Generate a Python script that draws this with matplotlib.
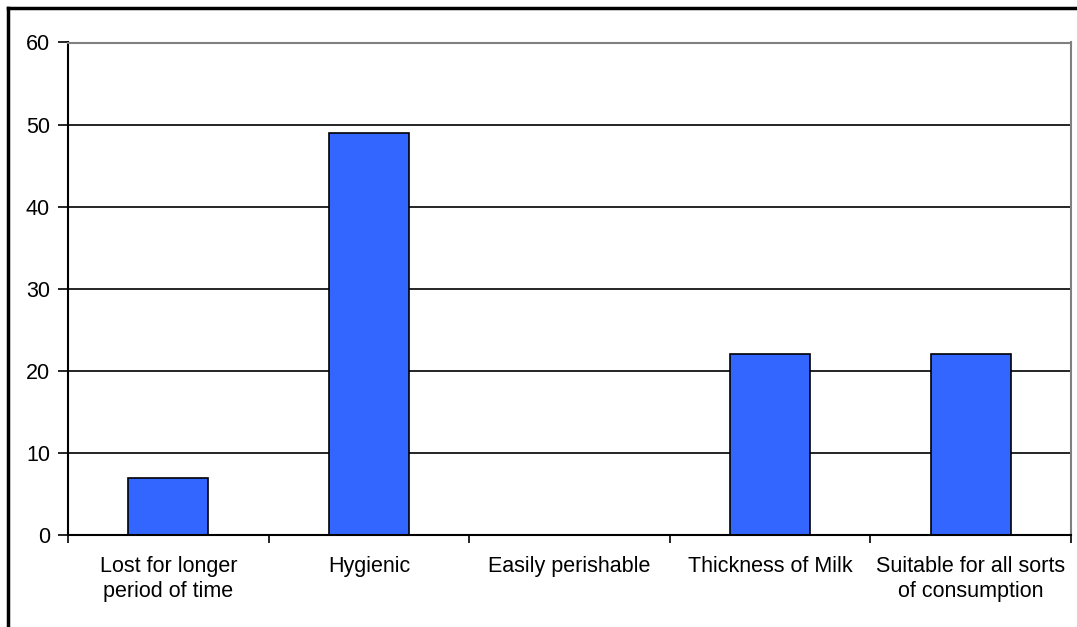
import numpy as np
import matplotlib.pyplot as plt
from matplotlib.lines import Line2D

plt.rcParams["font.family"] = ["Liberation Sans", "DejaVu Sans"]

categories = ["Lost for longer\nperiod of time", "Hygienic", "Easily perishable",
              "Thickness of Milk", "Suitable for all sorts\nof consumption"]
values = [7, 49, 0, 22, 22]
yticks = [0, 10, 20, 30, 40, 50, 60]

W, H = 1077, 627
fig = plt.figure(figsize=(W / 100, H / 100), dpi=100)
ax = fig.add_axes([68 / W, (H - 535) / H, (1071 - 68) / W, (535 - 42.5) / H])

x = np.arange(len(categories))
ax.bar(x, values, width=0.4, color="#3366FF", edgecolor="black", linewidth=1.2, zorder=3)

ax.set_xlim(-0.5, len(categories) - 0.5)
ax.set_ylim(0, 60)
ax.set_yticks(yticks)
ax.tick_params(axis="y", direction="out", length=7, width=1.2, labelsize=15.5, pad=6)

# category labels centred, tick marks between categories
ax.set_xticks(x)
ax.set_xticklabels(categories, fontsize=15.5, linespacing=1.25)
ax.tick_params(axis="x", which="major", length=0, pad=15)
ax.set_xticks(np.arange(len(categories) + 1) - 0.5, minor=True)
ax.tick_params(axis="x", which="minor", direction="out", length=6, width=1.2)

ax.yaxis.grid(True, color="black", linewidth=1.2, zorder=0)
ax.set_axisbelow(True)

for s in ["top", "right"]:
    ax.spines[s].set_color("#808080")
    ax.spines[s].set_linewidth(1.5)
for s in ["left", "bottom"]:
    ax.spines[s].set_color("black")
    ax.spines[s].set_linewidth(1.5)
ax.spines["bottom"].set_zorder(4)

# outer frame of the chart area (top and left edges)
fig.add_artist(Line2D([8 / W, 1], [1 - 8 / H, 1 - 8 / H], color="black", linewidth=2.5,
                      transform=fig.transFigure))
fig.add_artist(Line2D([8 / W, 8 / W], [0, 1 - 8 / H], color="black", linewidth=2.5,
                      transform=fig.transFigure))

fig.savefig("out.png", dpi=100)
